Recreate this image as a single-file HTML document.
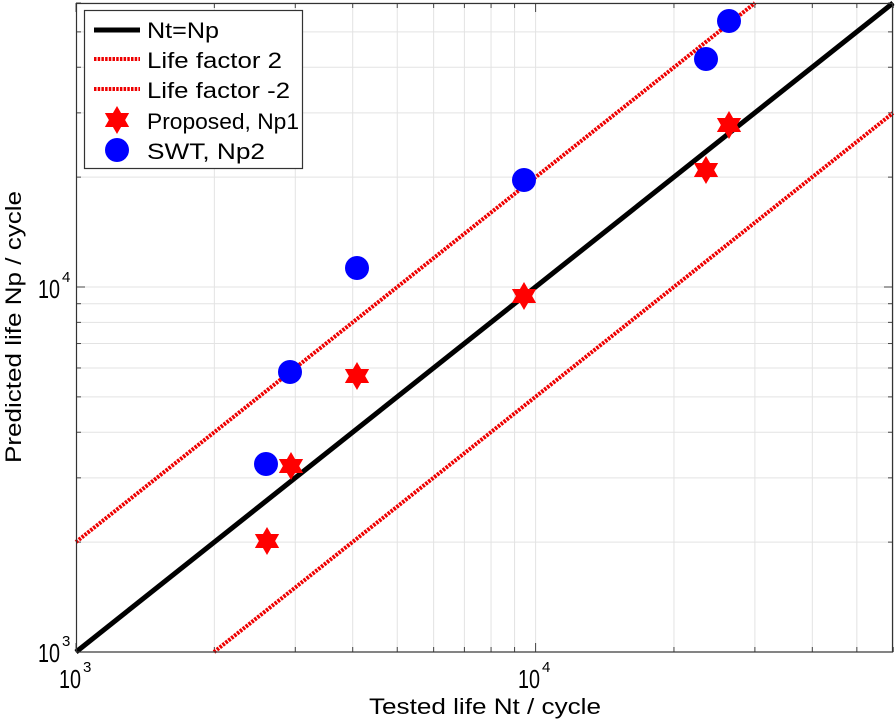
<!DOCTYPE html>
<html><head><meta charset="utf-8"><style>
html,body{margin:0;padding:0;background:#fff;}
svg{display:block;font-family:"Liberation Sans",Arial,sans-serif;}
</style></head><body>
<svg width="896" height="723" viewBox="0 0 896 723" xmlns="http://www.w3.org/2000/svg">
<g id="grid" stroke="#e3e3e3" stroke-width="1"></g>
<g id="ticks" stroke="#444" stroke-width="1"></g>
<line x1="76" y1="652" x2="893" y2="3" stroke="#000" stroke-width="5"/>
<line x1="76" y1="542" x2="755" y2="3" stroke="#e00" stroke-width="4" stroke-dasharray="2.5 1.2"/>
<line x1="214" y1="652" x2="893" y2="113" stroke="#e00" stroke-width="4" stroke-dasharray="2.5 1.2"/>
<g id="pts"></g>
<rect x="76.5" y="3.5" width="816" height="648.5" fill="none" stroke="#333" stroke-width="1.2"/>
<rect x="84.5" y="10.5" width="218" height="158" fill="#fff" stroke="#333" stroke-width="1.2"/>
<line x1="94" y1="30" x2="140" y2="30" stroke="#000" stroke-width="5"/>
<line x1="94" y1="59" x2="140" y2="59" stroke="#e00" stroke-width="4" stroke-dasharray="2.5 1.2"/>
<line x1="94" y1="89" x2="140" y2="89" stroke="#e00" stroke-width="4" stroke-dasharray="2.5 1.2"/>
<g id="lgm"></g>
<g font-size="22" fill="#000">
<text x="147" y="38" textLength="72" lengthAdjust="spacingAndGlyphs">Nt=Np</text>
<text x="147" y="68" textLength="135" lengthAdjust="spacingAndGlyphs">Life factor 2</text>
<text x="147" y="98" textLength="143" lengthAdjust="spacingAndGlyphs">Life factor -2</text>
<text x="147" y="129" textLength="152" lengthAdjust="spacingAndGlyphs">Proposed, Np1</text>
<text x="147" y="159" textLength="118" lengthAdjust="spacingAndGlyphs">SWT, Np2</text>
</g>
<g font-size="26" fill="#000">
<text x="38" y="662" textLength="22" lengthAdjust="spacingAndGlyphs">10</text><text x="62" y="646" font-size="15">3</text>
<text x="38" y="298" textLength="22" lengthAdjust="spacingAndGlyphs">10</text><text x="62" y="282" font-size="15">4</text>
<text x="59" y="688" textLength="22" lengthAdjust="spacingAndGlyphs">10</text><text x="83" y="672" font-size="15">3</text>
<text x="518" y="688" textLength="22" lengthAdjust="spacingAndGlyphs">10</text><text x="542" y="672" font-size="15">4</text>
</g>
<g font-size="22" fill="#000">
<text x="485" y="714" text-anchor="middle" textLength="232" lengthAdjust="spacingAndGlyphs">Tested life Nt / cycle</text>
<text transform="translate(21,327) rotate(-90)" text-anchor="middle" textLength="272" lengthAdjust="spacingAndGlyphs">Predicted life Np / cycle</text>
</g>
<script>
var NS="http://www.w3.org/2000/svg";
function X(v){return 76+459.6*Math.log10(v/1000);}
function Y(v){return 652-365*Math.log10(v/1000);}
var g=document.getElementById('grid'),t=document.getElementById('ticks');
function ln(p,a,b,c,d){var l=document.createElementNS(NS,'line');l.setAttribute('x1',a);l.setAttribute('y1',b);l.setAttribute('x2',c);l.setAttribute('y2',d);p.appendChild(l);}
[1000,10000].forEach(function(d){for(var k=1;k<10;k++){var v=d*k;if(v>60000)break;
 var x=X(v),y=Y(v);
 if(v>1000){ln(g,x,3,x,652);ln(g,76,y,893,y);}
 var L=(k==1)?9:5;
 ln(t,x,652,x,652-L);ln(t,x,3,x,3+L);ln(t,76,y,76+L,y);ln(t,893,y,893-L,y);}});
function star(p,cx,cy,r){var s='';for(var i=0;i<12;i++){var a=Math.PI/6*i-Math.PI/2;var rr=(i%2==0)?r:r*0.58;s+=(cx+rr*Math.cos(a))+','+(cy+rr*Math.sin(a))+' ';}
 var e=document.createElementNS(NS,'polygon');e.setAttribute('points',s);e.setAttribute('fill','#f00');p.appendChild(e);}
function circ(p,cx,cy,r){var e=document.createElementNS(NS,'circle');e.setAttribute('cx',cx);e.setAttribute('cy',cy);e.setAttribute('r',r);e.setAttribute('fill','#00f');p.appendChild(e);}
var P=document.getElementById('pts');
[[266,464],[290,372],[357,268],[524,180],[706,59],[729,21]].forEach(function(q){circ(P,q[0],q[1],12);});
[[267,541],[291,466],[357,376],[524,296],[706,170],[729,125]].forEach(function(q){star(P,q[0],q[1],14);});
var G=document.getElementById('lgm');star(G,117,120,14);circ(G,117,150,12);
</script>
</svg>
</body></html>
